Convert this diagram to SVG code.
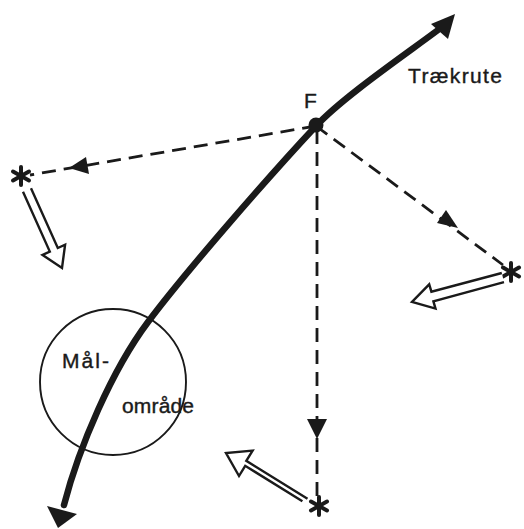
<svg xmlns="http://www.w3.org/2000/svg" width="524" height="529" viewBox="0 0 524 529">
<style>
.route{fill:none;stroke:#1a1a1a;stroke-width:6.5;stroke-linecap:round;stroke-linejoin:round}
.dash{fill:none;stroke:#1a1a1a;stroke-width:2.8;stroke-dasharray:14 8}
.head{fill:#1a1a1a;stroke:none}
.hollow{fill:#fff;stroke:#1a1a1a;stroke-width:2.4;stroke-linejoin:miter}
.star{stroke:#1a1a1a;stroke-width:4;stroke-linecap:round}
.lbl{font-family:"Liberation Sans",Arial,sans-serif;font-size:21px;fill:#1a1a1a;stroke:#1a1a1a;stroke-width:0.4}
.circ{fill:none;stroke:#1a1a1a;stroke-width:1.9}
</style>
<defs>
<g id="ast">
<line class="star" x1="0" y1="-9" x2="0" y2="9"/>
<line class="star" x1="-8" y1="-4.5" x2="8" y2="4.5"/>
<line class="star" x1="-8" y1="4.5" x2="8" y2="-4.5"/>
</g>
</defs>
<g id="target-area">
<circle class="circ" cx="113" cy="382" r="73"/>
<text class="lbl" x="62" y="368" textLength="47">Mål-</text>
<text class="lbl" x="122" y="413" textLength="72">område</text>
</g>
<g id="connectors">
<path class="dash" d="M316 126 L30 175"/>
<polygon class="head" points="69,168 89,174 86,157"/>
<path class="dash" d="M316 126 L503 265"/>
<polygon class="head" points="458,228 437,223 446,210"/>
<path class="dash" d="M317 130 L317 496"/>
<polygon class="head" points="317,439 307,419 327,419"/>
</g>
<g id="route">
<path class="route" d="M438 30 C406 54 343 97 316 126 C272 173 187 270 148 322 C112 370 79 447 64 505"/>
<polygon class="head" points="58,528 77,514 47,506"/>
<polygon class="head" points="455,14 431,24 448,39"/>
<text class="lbl" x="408" y="83" textLength="94">Trækrute</text>
</g>
<g id="F">
<circle cx="316" cy="125" r="7.5" fill="#1a1a1a"/>
<text class="lbl" x="304" y="108">F</text>
</g>
<g id="star-left">
<use href="#ast" x="21" y="176"/>
<path class="hollow" d="M31 188.2 L57.8 248 L65.1 244.7 L62 268 L42.5 254.9 L49.8 251.6 L23 191.8"/>
</g>
<g id="star-right">
<use href="#ast" x="511" y="272"/>
<path class="hollow" d="M501.8 273 L431.4 291.7 L429.2 284.4 L412 302 L435.5 308.6 L433.4 301.4 L504 282.2"/>
</g>
<g id="star-bottom">
<use href="#ast" x="319" y="506"/>
<path class="hollow" d="M307.5 498.8 L246.3 460.8 L252.6 450.6 L226 453 L239 476 L245.2 465.8 L302.4 501.2"/>
</g>
</svg>
